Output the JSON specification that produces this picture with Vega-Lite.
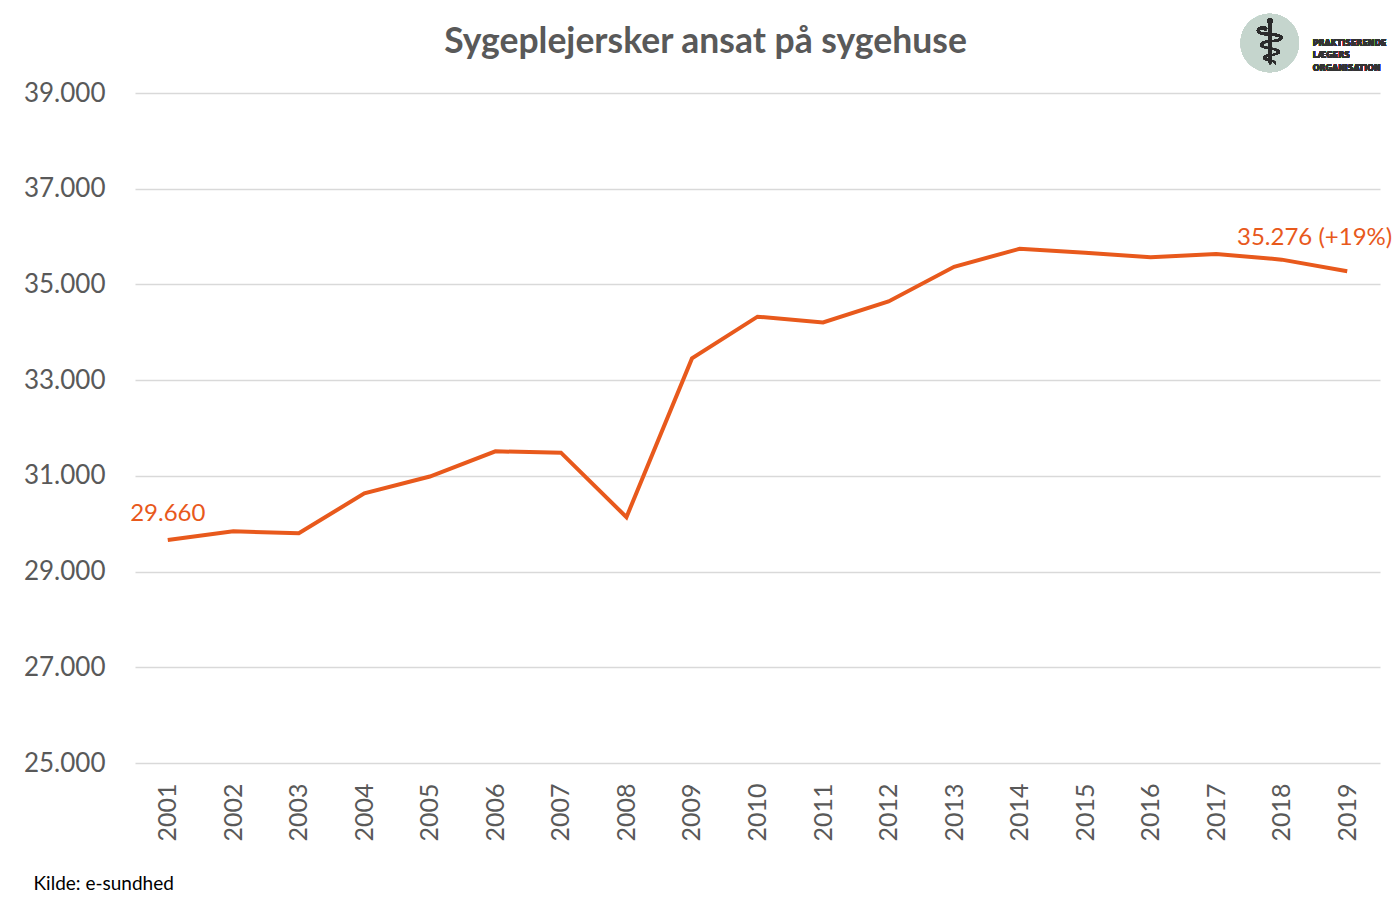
{
  "$schema": "https://vega.github.io/schema/vega-lite/v6.json",
  "width": 1245,
  "height": 670,
  "autosize": {"type": "none"},
  "padding": {"left": 135, "top": 93, "right": 16, "bottom": 142},
  "background": "#ffffff",
  "config": {
    "view": {"stroke": null},
    "font": "Lato",
    "locale": {"number": {"decimal": ",", "thousands": ".", "grouping": [3], "currency": ["", " kr."]}}
  },
  "title": {
    "text": "Sygeplejersker ansat på sygehuse",
    "font": "Lato",
    "fontSize": 35.5,
    "fontWeight": "bold",
    "color": "#595959",
    "anchor": "middle",
    "frame": "group",
    "dx": -52,
    "offset": -47
  },
  "data": {
    "values": [
      {"year": "2001", "value": 29660},
      {"year": "2002", "value": 29842},
      {"year": "2003", "value": 29800},
      {"year": "2004", "value": 30635},
      {"year": "2005", "value": 30986},
      {"year": "2006", "value": 31512},
      {"year": "2007", "value": 31484},
      {"year": "2008", "value": 30137},
      {"year": "2009", "value": 33454},
      {"year": "2010", "value": 34326},
      {"year": "2011", "value": 34206},
      {"year": "2012", "value": 34645},
      {"year": "2013", "value": 35369},
      {"year": "2014", "value": 35745},
      {"year": "2015", "value": 35660},
      {"year": "2016", "value": 35567},
      {"year": "2017", "value": 35638},
      {"year": "2018", "value": 35518},
      {"year": "2019", "value": 35276}
    ]
  },
  "layer": [
    {
      "mark": {"type": "line", "color": "#E8591C", "strokeWidth": 4, "clip": false},
      "encoding": {
        "x": {
          "field": "year",
          "type": "ordinal",
          "scale": {"type": "point", "padding": 0.5},
          "axis": {
            "title": "Kilde: e-sundhed",
            "titleFont": "Lato",
            "titleFontSize": 19,
            "titleFontWeight": "normal",
            "titleColor": "#000000",
            "titleAnchor": "start",
            "titleAlign": "left",
            "titleBaseline": "alphabetic",
            "titleX": -102,
            "titleY": 126,
            "labelAngle": -90,
            "labelFontSize": 25,
            "labelColor": "#595959",
            "labelPadding": 20,
            "ticks": false,
            "domain": false,
            "grid": false
          }
        },
        "y": {
          "field": "value",
          "type": "quantitative",
          "scale": {"domain": [25000, 39000], "nice": false, "zero": false},
          "axis": {
            "title": null,
            "values": [25000, 27000, 29000, 31000, 33000, 35000, 37000, 39000],
            "format": ",.0f",
            "labelFontSize": 26,
            "labelColor": "#595959",
            "labelPadding": 30,
            "ticks": false,
            "domain": false,
            "grid": true,
            "gridColor": "#d9d9d9",
            "gridWidth": 1.5
          }
        }
      }
    },
    {
      "transform": [{"filter": "datum.year == '2001'"}],
      "mark": {"type": "text", "text": "29.660", "fontSize": 24, "color": "#E8591C", "align": "center", "baseline": "alphabetic", "dy": -19, "clip": false},
      "encoding": {"x": {"field": "year", "type": "ordinal"}, "y": {"field": "value", "type": "quantitative"}}
    },
    {
      "transform": [{"filter": "datum.year == '2019'"}],
      "mark": {"type": "text", "text": "35.276 (+19%)", "fontSize": 24, "color": "#E8591C", "align": "right", "baseline": "alphabetic", "dx": 45, "dy": -26, "clip": false},
      "encoding": {"x": {"field": "year", "type": "ordinal"}, "y": {"field": "value", "type": "quantitative"}}
    },
    {
      "mark": {"type": "point", "shape": "circle", "filled": true, "color": "#c5d5cd", "opacity": 1, "size": 3420, "xOffset": -12, "clip": false},
      "encoding": {"x": {"datum": "2018", "type": "ordinal"}, "y": {"datum": 40045, "type": "quantitative"}}
    },
    {
      "mark": {"type": "text", "text": "⚕", "font": "DejaVu Sans", "fontSize": 62, "color": "#2b2b2b", "align": "center", "baseline": "middle", "dx": -12, "dy": 2, "clip": false},
      "encoding": {"x": {"datum": "2018", "type": "ordinal"}, "y": {"datum": 40045, "type": "quantitative"}}
    },
    {
      "mark": {"type": "text", "text": ["PRAKTISERENDE", "LÆGERS", "ORGANISATION"], "font": "DejaVu Sans Condensed, Roboto, sans-serif", "fontWeight": "bold", "fontSize": 8.8, "lineHeight": 12.5, "color": "#333333", "align": "left", "baseline": "middle", "dx": 31, "clip": false},
      "encoding": {"x": {"datum": "2018", "type": "ordinal"}, "y": {"datum": 40045, "type": "quantitative"}}
    }
  ]
}
